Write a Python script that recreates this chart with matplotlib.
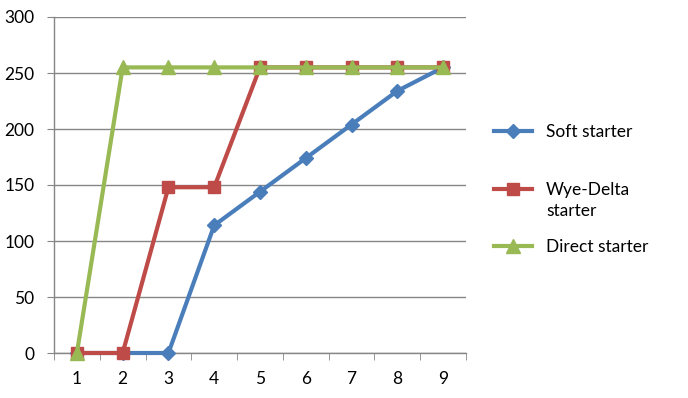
import matplotlib
matplotlib.use("Agg")
import matplotlib.pyplot as plt
from matplotlib.ticker import FixedLocator

categories = [1, 2, 3, 4, 5, 6, 7, 8, 9]
soft = [0, 0, 0, 114, 144, 174, 204, 234, 255]
wye_delta = [0, 0, 148, 148, 255, 255, 255, 255, 255]
direct = [0, 255, 255, 255, 255, 255, 255, 255, 255]
yticks = [0, 50, 100, 150, 200, 250, 300]

plt.rcParams['font.family'] = ['Lato', 'DejaVu Sans']
fs = 12.5
fig = plt.figure(figsize=(6.88, 3.98), dpi=100)
ax = fig.add_axes([54/688, 45/398, 412/688, 336/398])

grid_c = '#868686'
ax.plot(categories, soft, color='#4A7EBB', lw=3, marker='D', ms=7.5, label='Soft starter', zorder=3, clip_on=False)
ax.plot(categories, wye_delta, color='#BE4B48', lw=3, marker='s', ms=8.5, label='Wye-Delta', zorder=4, clip_on=False)
ax.plot(categories, direct, color='#98B954', lw=3, marker='^', ms=9.5, label='Direct starter', zorder=5, clip_on=False)

ax.set_xlim(0.5, 9.5)
ax.set_ylim(0, 300)
ax.set_yticks(yticks)
ax.set_xticks(categories)
ax.xaxis.set_minor_locator(FixedLocator([c + 0.5 for c in [0] + categories]))
ax.tick_params(axis='x', which='major', length=0, pad=13, labelsize=fs)
ax.tick_params(axis='x', which='minor', length=5, color=grid_c, direction='out')
ax.tick_params(axis='y', length=5, color=grid_c, direction='out', pad=9, labelsize=fs)
ax.yaxis.grid(True, color=grid_c, lw=1)
ax.set_axisbelow(True)
for s in ['top', 'right']:
    ax.spines[s].set_visible(False)
for s in ['left', 'bottom']:
    ax.spines[s].set_color(grid_c)
    ax.spines[s].set_linewidth(1)

leg = fig.legend(loc='upper left', bbox_to_anchor=(494/688, 1 - 124/398), frameon=False,
                 fontsize=fs, handlelength=2.2, handletextpad=0.8, labelspacing=2.4,
                 borderaxespad=0, borderpad=0)
fig.canvas.draw()
t = leg.get_texts()[1]
bb = t.get_window_extent()
fig.text(bb.x0 / 688, (bb.y0 - 21) / 398, 'starter', fontsize=fs, va='bottom', ha='left')

fig.savefig('out.png', dpi=100)
